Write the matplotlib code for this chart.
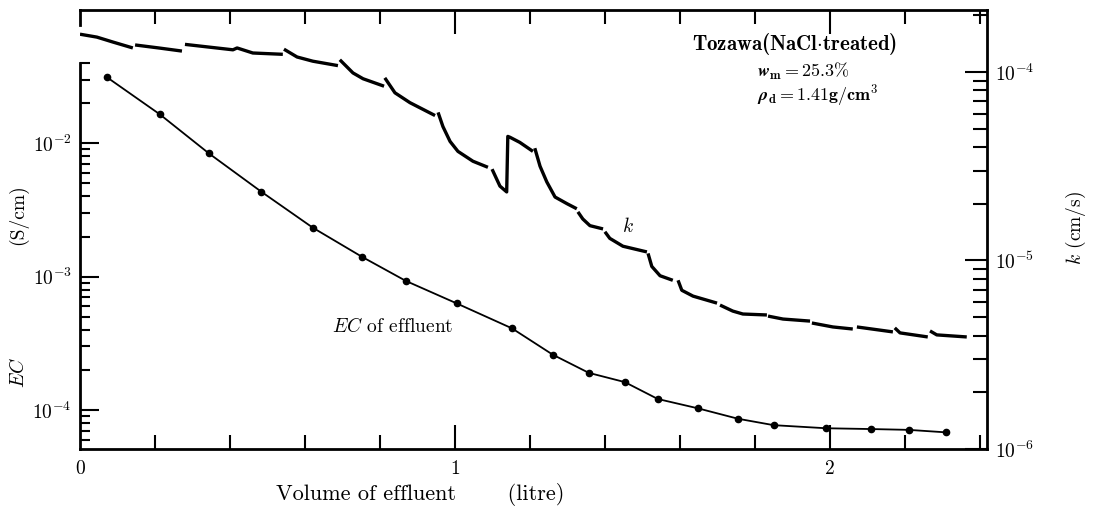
import matplotlib
matplotlib.use("Agg")
import matplotlib.pyplot as plt
from matplotlib.ticker import FixedLocator, NullFormatter

plt.rcParams['mathtext.fontset'] = 'cm'
plt.rcParams['font.family'] = ['cmr10', 'DejaVu Serif']
plt.rcParams['axes.unicode_minus'] = False
plt.rcParams['axes.formatter.use_mathtext'] = True

# EC of effluent (S/cm) vs volume of effluent (litre)
ec_volume = [0.072, 0.213, 0.344, 0.483, 0.621, 0.752, 0.869, 1.005, 1.152, 1.261,
             1.357, 1.453, 1.541, 1.648, 1.755, 1.85, 1.99, 2.11, 2.21, 2.31]
ec_value = [3.13e-2, 1.65e-2, 8.4e-3, 4.35e-3, 2.33e-3, 1.41e-3, 9.3e-4, 6.3e-4, 4.1e-4, 2.6e-4,
            1.9e-4, 1.62e-4, 1.21e-4, 1.03e-4, 8.6e-5, 7.7e-5, 7.3e-5, 7.2e-5, 7.1e-5, 6.8e-5]

# k (cm/s), recorded in separate runs (one list per run)
k_volume = [
    [0.0, 0.045, 0.088, 0.141],
    [0.147, 0.21, 0.272],
    [0.28, 0.408, 0.419, 0.461, 0.541],
    [0.544, 0.579, 0.621, 0.688],
    [0.693, 0.728, 0.755, 0.811],
    [0.813, 0.84, 0.88, 0.947],
    [0.955, 0.968, 0.987, 1.008, 1.048, 1.088],
    [1.099, 1.12, 1.138, 1.141, 1.147, 1.173, 1.208],
    [1.213, 1.227, 1.245, 1.267, 1.299, 1.325],
    [1.328, 1.341, 1.36, 1.395],
    [1.4, 1.413, 1.448, 1.512],
    [1.515, 1.525, 1.547, 1.581],
    [1.595, 1.605, 1.635, 1.699],
    [1.707, 1.741, 1.768, 1.832],
    [1.835, 1.875, 1.947],
    [1.952, 2.008, 2.061],
    [2.072, 2.168],
    [2.173, 2.187, 2.261],
    [2.267, 2.285, 2.365],
]
k_value = [
    [1.585e-4, 1.53e-4, 1.44e-4, 1.34e-4],
    [1.39e-4, 1.34e-4, 1.29e-4],
    [1.40e-4, 1.31e-4, 1.34e-4, 1.26e-4, 1.24e-4],
    [1.32e-4, 1.20e-4, 1.14e-4, 1.08e-4],
    [1.16e-4, 9.88e-5, 9.2e-5, 8.4e-5],
    [9.3e-5, 7.75e-5, 6.87e-5, 5.87e-5],
    [6.1e-5, 5.13e-5, 4.28e-5, 3.79e-5, 3.36e-5, 3.12e-5],
    [3.05e-5, 2.48e-5, 2.31e-5, 4.55e-5, 4.5e-5, 4.23e-5, 3.79e-5],
    [3.94e-5, 3.16e-5, 2.61e-5, 2.17e-5, 2.0e-5, 1.88e-5],
    [1.81e-5, 1.66e-5, 1.53e-5, 1.47e-5],
    [1.42e-5, 1.31e-5, 1.19e-5, 1.11e-5],
    [1.09e-5, 9.3e-6, 8.3e-6, 7.85e-6],
    [7.85e-6, 6.95e-6, 6.47e-6, 5.94e-6],
    [5.8e-6, 5.39e-6, 5.2e-6, 5.14e-6],
    [5.07e-6, 4.89e-6, 4.77e-6],
    [4.66e-6, 4.44e-6, 4.33e-6],
    [4.44e-6, 4.18e-6],
    [4.39e-6, 4.13e-6, 3.93e-6],
    [4.23e-6, 4.03e-6, 3.93e-6],
]

ec_ticks = [1e-2, 1e-3, 1e-4]
ec_ticklabels = [r'$10^{-2}$', r'$10^{-3}$', r'$10^{-4}$']
k_ticks = [1e-4, 1e-5, 1e-6]
k_ticklabels = [r'$10^{-4}$', r'$10^{-5}$', r'$10^{-6}$']
x_ticks = [0, 1, 2]
x_ticklabels = ['0', '1', '2']


def log_minors(lo, hi):
    out = []
    for e in range(-8, 1):
        for m in range(2, 10):
            v = m * 10.0 ** e
            if lo <= v <= hi:
                out.append(v)
    return out


fig = plt.figure(figsize=(10.94, 5.08), dpi=100)
ax = fig.add_axes([0.0731, 0.1161, 0.8291, 0.8642])
ax2 = ax.twinx()

ax.set_xlim(0, 2.419)
ax.set_yscale('log')
ax.set_ylim(5.1e-5, 1.0e-1)
ax2.set_yscale('log')
ax2.set_ylim(1e-6, 2.13e-4)

# EC curve with dots
ax.plot(ec_volume, ec_value, color='black', lw=1.3, marker='o', ms=4.5, zorder=3)

# k curve, one run at a time
for vv, kk in zip(k_volume, k_value):
    ax2.plot(vv, kk, color='black', lw=2.4, solid_capstyle='butt')

# frame
for s in ax.spines.values():
    s.set_linewidth(2)
ax.spines['right'].set_visible(False)
ax.spines['left'].set_bounds(5.1e-5, 4e-2)
ax.plot([0, 0], [1.0, 0.965], transform=ax.transAxes, color='black', lw=2, clip_on=False)
for side in ('left', 'top', 'bottom'):
    ax2.spines[side].set_visible(False)
ax2.spines['right'].set_linewidth(2)

# x ticks
ax.xaxis.set_major_locator(FixedLocator(x_ticks))
ax.set_xticklabels(x_ticklabels)
ax.xaxis.set_minor_locator(FixedLocator([0.2, 0.4, 0.6, 0.8, 1.2, 1.4, 1.6, 1.8, 2.2, 2.4]))
ax.tick_params(axis='x', which='both', direction='in', top=True, bottom=True, width=1.5)
ax.tick_params(axis='x', which='major', length=17, labelsize=14, pad=8)
ax.tick_params(axis='x', which='minor', length=10)
ax.xaxis.get_major_ticks()[0].tick1line.set_visible(False)
ax.xaxis.get_major_ticks()[0].tick2line.set_visible(False)

# left ticks
ax.yaxis.set_major_locator(FixedLocator(ec_ticks))
ax.set_yticklabels(ec_ticklabels)
ax.yaxis.set_minor_locator(FixedLocator(log_minors(5.1e-5, 4e-2)))
ax.yaxis.set_minor_formatter(NullFormatter())
ax.tick_params(axis='y', which='both', direction='in', left=True, right=False, width=1.5)
ax.tick_params(axis='y', which='major', length=14, labelsize=14, pad=6)
ax.tick_params(axis='y', which='minor', length=7)

# right ticks
ax2.yaxis.set_major_locator(FixedLocator(k_ticks))
ax2.set_yticklabels(k_ticklabels)
ax2.yaxis.set_minor_locator(FixedLocator(log_minors(1e-6, 2.13e-4)))
ax2.yaxis.set_minor_formatter(NullFormatter())
ax2.tick_params(axis='y', which='both', direction='in', right=True, left=False, width=1.5)
ax2.tick_params(axis='y', which='major', length=16, labelsize=14, pad=6)
ax2.tick_params(axis='y', which='minor', length=10)

# labels and annotations
W, H = 1094.0, 508.0
fig.text(420 / W, 1 - 494 / H, 'Volume of effluent       (litre)', ha='center', va='center', fontsize=16)
fig.text(18 / W, 1 - 215 / H, '(S/cm)', rotation=90, ha='center', va='center', fontsize=14)
fig.text(18 / W, 1 - 372 / H, r'$EC$', rotation=90, ha='center', va='center', fontsize=14)
fig.text(1076 / W, 1 - 228 / H, r'$k$ (cm/s)', rotation=90, ha='center', va='center', fontsize=14)
fig.text(332 / W, 1 - 327 / H, r'$EC$ of effluent', ha='left', va='center', fontsize=14)
fig.text(628 / W, 1 - 226 / H, r'$k$', ha='center', va='center', fontsize=14)
fig.text(795 / W, 1 - 44 / H, 'Tozawa(NaCl$\\cdot$treated)', ha='center', va='center',
         fontsize=15, family='cmb10')
fig.text(757 / W, 1 - 71 / H, r'$\boldsymbol{w}_{\mathbf{m}}\mathbf{=25.3\%}$', ha='left', va='center',
         fontsize=13)
fig.text(757 / W, 1 - 95 / H, r'$\boldsymbol{\rho}_{\mathbf{d}}\mathbf{=1.41g/cm^3}$', ha='left', va='center',
         fontsize=13)

fig.savefig('out.png', dpi=100)
